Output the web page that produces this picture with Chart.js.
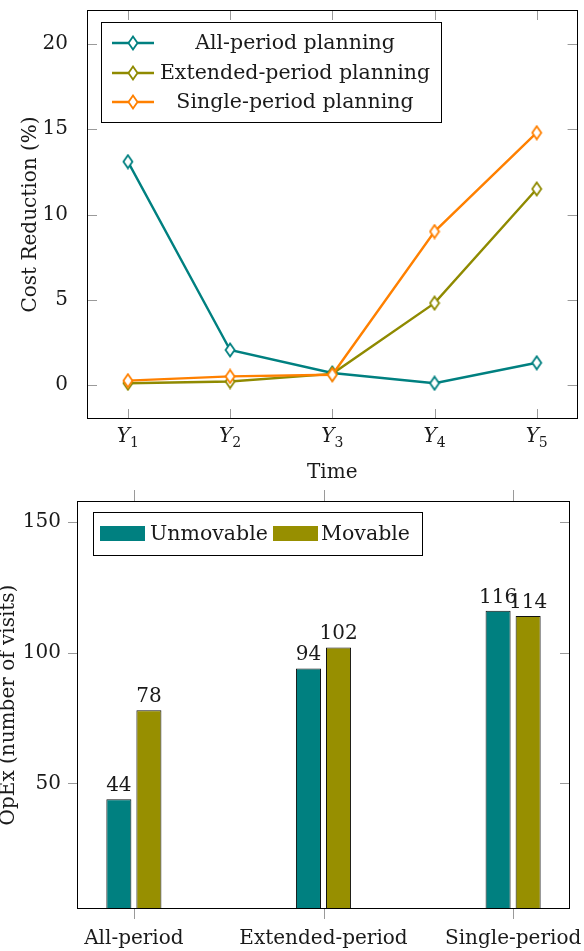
<!DOCTYPE html>
<html>
<head>
<meta charset="utf-8">
<script src="https://cdn.jsdelivr.net/npm/chart.js@4.4.0/dist/chart.umd.min.js"></script>
<style>
  html,body{margin:0;padding:0;background:#fff;}
  #top{position:absolute;left:0;top:0;width:584px;height:484px;}
  #bot{position:absolute;left:0;top:484px;width:584px;height:467px;}
</style>
</head>
<body>
<div id="top"><canvas id="costChart" width="584" height="484"></canvas></div>
<div id="bot"><canvas id="opexChart" width="584" height="467"></canvas></div>
<script>
// --- top chart: cost reduction per period ---
const PERIODS = ['1','2','3','4','5'];            // Y subscripts
const LINE_LABELS = ['All-period planning','Extended-period planning','Single-period planning'];
const ALL_PERIOD = [13.1, 2.05, 0.7, 0.1, 1.3];
const EXTENDED_PERIOD = [0.1, 0.2, 0.65, 4.8, 11.5];
const SINGLE_PERIOD = [0.25, 0.5, 0.6, 9.0, 14.8];
const COST_TICKS = [0, 5, 10, 15, 20];

// --- bottom chart: OpEx per strategy ---
const STRATEGIES = ['All-period','Extended-period','Single-period'];
const BAR_LABELS = ['Unmovable','Movable'];
const UNMOVABLE = [44, 94, 116];
const MOVABLE = [78, 102, 114];
const OPEX_TICKS = [50, 100, 150];

const FONT = '"DejaVu Serif", "Liberation Serif", serif';
const TEAL='#008080', OLIVE='#8f8a00', ORANGE='#ff8000', BAR_OLIVE='#978f00';
const TXT='#1a1a1a', TICK='#9a9a9a';

function diamond(color){
  const c=document.createElement('canvas'); c.width=12; c.height=16;
  const g=c.getContext('2d');
  g.beginPath(); g.moveTo(6,1.5); g.lineTo(10.5,8); g.lineTo(6,14.5); g.lineTo(1.5,8); g.closePath();
  g.fillStyle='#fff'; g.fill(); g.lineWidth=1.8; g.strokeStyle=color; g.stroke();
  return c;
}
const xy = arr => arr.map((v,i)=>({x:i,y:v}));
const noPadX = s => { s.paddingLeft=0; s.paddingRight=0; };
const noPadY = s => { s.paddingTop=0; s.paddingBottom=0; };

const COLORS=[TEAL,OLIVE,ORANGE];
const MARKS=COLORS.map(diamond);

const costPlugin={
  id:'costDeco',
  beforeDatasetsDraw(c){
    const {ctx,chartArea:a,scales:{x,y}}=c;
    ctx.save(); ctx.strokeStyle=TICK; ctx.lineWidth=1; ctx.beginPath();
    COST_TICKS.forEach(v=>{ const py=Math.round(y.getPixelForValue(v))+.5;
      ctx.moveTo(a.left,py); ctx.lineTo(a.left+10,py); ctx.moveTo(a.right,py); ctx.lineTo(a.right-10,py); });
    PERIODS.forEach((p,i)=>{ const px=Math.round(x.getPixelForValue(i))+.5;
      ctx.moveTo(px,a.top); ctx.lineTo(px,a.top+10); ctx.moveTo(px,a.bottom); ctx.lineTo(px,a.bottom-10); });
    ctx.stroke(); ctx.restore();
  },
  afterDraw(c){
    const {ctx,chartArea:a,scales:{x}}=c;
    ctx.save();
    ctx.strokeStyle='#000'; ctx.lineWidth=1;
    ctx.strokeRect(Math.round(a.left)+.5,Math.round(a.top)+.5,Math.round(a.right-a.left)-1,Math.round(a.bottom-a.top)-1);
    // legend
    ctx.fillStyle='#fff'; ctx.fillRect(101,22,340,100);
    ctx.strokeRect(101.5,22.5,340,100);
    ctx.font='20.5px '+FONT; ctx.fillStyle=TXT; ctx.textAlign='center'; ctx.textBaseline='middle';
    [43,73,102].forEach((ly,i)=>{
      ctx.strokeStyle=COLORS[i]; ctx.lineWidth=2.4; ctx.beginPath(); ctx.moveTo(112,ly); ctx.lineTo(154,ly); ctx.stroke();
      ctx.drawImage(MARKS[i],133-6,ly-8);
      ctx.fillText(c.data.datasets[i].label,295,ly+1);
    });
    // x tick labels Y_i
    ctx.textAlign='left'; ctx.textBaseline='alphabetic';
    PERIODS.forEach((p,i)=>{
      const px=x.getPixelForValue(i);
      ctx.font='italic 20px '+FONT; const w1=ctx.measureText('Y').width;
      ctx.font='14px '+FONT; const w2=ctx.measureText(p).width;
      const x0=px-(w1+w2)/2;
      ctx.font='italic 20px '+FONT; ctx.fillText('Y',x0,442);
      ctx.font='14px '+FONT; ctx.fillText(p,x0+w1,447);
    });
    ctx.font='20px '+FONT; ctx.textAlign='center';
    ctx.fillText('Time',(a.left+a.right)/2,478);
    ctx.translate(36,(a.top+a.bottom)/2); ctx.rotate(-Math.PI/2);
    ctx.fillText('Cost Reduction (%)',0,0);
    ctx.restore();
  }
};

new Chart(document.getElementById('costChart'),{
  type:'line',
  data:{datasets:[
    {label:LINE_LABELS[0],data:xy(ALL_PERIOD),borderColor:TEAL,order:3},
    {label:LINE_LABELS[1],data:xy(EXTENDED_PERIOD),borderColor:OLIVE,order:2},
    {label:LINE_LABELS[2],data:xy(SINGLE_PERIOD),borderColor:ORANGE,order:1}
  ].map((d,i)=>Object.assign(d,{borderWidth:2.4,pointStyle:MARKS[i],tension:0,fill:false}))},
  options:{
    responsive:false,animation:false,
    layout:{padding:{top:10,right:5,left:0,bottom:0}},
    plugins:{legend:{display:false},tooltip:{enabled:false}},
    scales:{
      x:{type:'linear',min:-0.4,max:4.4,grid:{display:false},border:{display:false},
         ticks:{display:false},
         afterBuildTicks:s=>{s.ticks=PERIODS.map((p,i)=>({value:i}));},
         afterFit:s=>{s.height=65; noPadX(s);}},
      y:{min:-2,max:22,grid:{display:false},border:{display:false},
         ticks:{padding:11,color:TXT,font:{family:FONT,size:20}},
         afterBuildTicks:s=>{s.ticks=COST_TICKS.map(v=>({value:v}));},
         afterFit:s=>{s.width=87; noPadY(s);}}
    }
  },
  plugins:[costPlugin]
});

const opexPlugin={
  id:'opexDeco',
  beforeDatasetsDraw(c){
    const {ctx,chartArea:a,scales:{x,y}}=c;
    ctx.save(); ctx.strokeStyle=TICK; ctx.lineWidth=1; ctx.beginPath();
    OPEX_TICKS.forEach(v=>{ const py=Math.round(y.getPixelForValue(v))+.5;
      ctx.moveTo(a.left,py); ctx.lineTo(a.left-9,py); ctx.moveTo(a.right,py); ctx.lineTo(a.right-10,py); });
    STRATEGIES.forEach((s,i)=>{ const px=Math.round(x.getPixelForValue(i))+.5;
      ctx.moveTo(px,a.top); ctx.lineTo(px,a.top-11); ctx.moveTo(px,a.bottom); ctx.lineTo(px,a.bottom+10); });
    ctx.stroke(); ctx.restore();
  },
  afterDraw(c){
    const {ctx,chartArea:a}=c;
    ctx.save();
    ctx.strokeStyle='#000'; ctx.lineWidth=1;
    ctx.strokeRect(Math.round(a.left)+.5,Math.round(a.top)+.5,Math.round(a.right-a.left)-1,Math.round(a.bottom-a.top)-1);
    // bar values
    ctx.font='20px '+FONT; ctx.fillStyle=TXT; ctx.textAlign='center'; ctx.textBaseline='alphabetic';
    c.data.datasets.forEach((d,di)=>{
      c.getDatasetMeta(di).data.forEach((el,i)=>{ ctx.fillText(String(d.data[i].y),el.x,el.y-8); });
    });
    // legend
    ctx.fillStyle='#fff'; ctx.fillRect(93,28,329,43);
    ctx.strokeRect(93.5,28.5,329,43);
    const sw=[[100,TEAL,150],[273,BAR_OLIVE,321]];
    ctx.textAlign='left'; ctx.textBaseline='middle'; ctx.font='20.5px '+FONT;
    sw.forEach(([sx,col,tx],i)=>{
      ctx.fillStyle=col; ctx.fillRect(sx,42,45,15);
      ctx.fillStyle=TXT; ctx.fillText(c.data.datasets[i].label,tx,50.5);
    });
    // y title (partly cut by the left edge as in the source)
    ctx.textAlign='center'; ctx.textBaseline='alphabetic'; ctx.font='20px '+FONT;
    ctx.translate(14,(a.top+a.bottom)/2); ctx.rotate(-Math.PI/2);
    ctx.fillText('OpEx (number of visits)',0,0);
    ctx.restore();
  }
};

new Chart(document.getElementById('opexChart'),{
  type:'bar',
  data:{datasets:[
    {label:BAR_LABELS[0],data:xy(UNMOVABLE),backgroundColor:TEAL},
    {label:BAR_LABELS[1],data:xy(MOVABLE),backgroundColor:BAR_OLIVE}
  ].map(d=>Object.assign(d,{borderColor:'#111',borderWidth:1,borderSkipped:false,
      categoryPercentage:0.317,barPercentage:0.833}))},
  options:{
    responsive:false,animation:false,
    layout:{padding:{top:17,right:14,left:0,bottom:0}},
    plugins:{legend:{display:false},tooltip:{enabled:false}},
    scales:{
      x:{type:'linear',offset:false,min:-0.3,max:2.3,grid:{display:false},border:{display:false},
         ticks:{padding:10,color:TXT,font:{family:FONT,size:20},maxRotation:0,minRotation:0,autoSkip:false,
                callback:v=>STRATEGIES[v]},
         afterBuildTicks:s=>{s.ticks=STRATEGIES.map((n,i)=>({value:i}));},
         afterFit:s=>{s.height=42; noPadX(s);}},
      y:{min:2,max:158,grid:{display:false},border:{display:false},
         ticks:{padding:8,color:TXT,font:{family:FONT,size:20}},
         afterBuildTicks:s=>{s.ticks=OPEX_TICKS.map(v=>({value:v}));},
         afterFit:s=>{s.width=77; noPadY(s);}}
    }
  },
  plugins:[opexPlugin]
});
</script>
</body>
</html>
